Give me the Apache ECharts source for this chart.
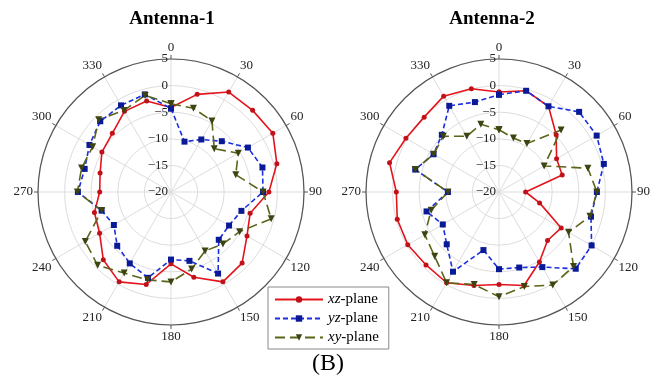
<!DOCTYPE html>
<html>
<head>
<meta charset="utf-8">
<script src="https://cdn.jsdelivr.net/npm/echarts@6/dist/echarts.min.js"></script>
<style>
  html, body { margin: 0; padding: 0; background: #fff; }
  #chart { width: 656px; height: 385px; }
</style>
</head>
<body>
<div id="chart"></div>
<script>
// angles of the measured points (deg)
const angles = [0, 15, 30, 45, 60, 75, 90, 105, 120, 135, 150, 165, 180, 195, 210, 225, 240, 255, 270, 285, 300, 315, 330, 345];
const angleTicks = [0, 30, 60, 90, 120, 150, 180, 210, 240, 270, 300, 330];
const radiusTicks = [-20, -15, -10, -5, 0, 5];

// Antenna-1 (dB)
const ant1Xz = [-4.1, -1.0, 1.7, 1.7, 2.1, 0.6, -1.6, -4.6, -3.5, -1.1, -0.5, -3.4, -6.5, -2.0, -0.5, -2.0, -4.5, -5.1, -6.6, -6.2, -5.0, -4.4, -2.5, -2.3];
const ant1Yz = [-4.3, -10.2, -8.6, -6.5, -3.3, -2.2, -2.7, -6.3, -7.4, -7.3, -2.3, -6.6, -7.3, -3.3, -4.5, -5.7, -7.6, -6.5, -2.5, -3.2, -2.3, -1.2, -1.2, -1.0];
const ant1Xy = [-3.4, -3.7, -4.6, -8.5, -5.4, -7.4, -2.7, -0.5, -5.1, -6.2, -7.2, -5.0, -3.1, -2.9, -2.4, -0.5, -1.4, -6.5, -2.4, -2.6, -3.0, -0.8, -2.3, -1.2];

// Antenna-2 (dB)
const ant2Xz = [-1.2, -0.3, -1.4, -4.8, -7.5, -7.7, -15.0, -12.1, -6.5, -7.1, -4.8, -1.8, -2.6, -1.8, -0.3, -0.6, -0.2, -0.2, -0.7, 1.3, 0.2, -0.1, 0.8, 0.1];
const ant2Yz = [-1.7, -0.3, -1.4, 1.3, 1.2, 0.4, -1.6, -2.1, 0.1, 0.4, -3.7, -5.3, -5.5, -8.7, -2.7, -6.1, -7.8, -5.9, -10.4, -3.7, -5.8, -4.8, -1.3, -2.5];
const ant2Xy = [-8.3, -9.5, -9.5, -3.5, -10.2, -2.7, -1.6, -2.3, -4.9, -0.2, 0.2, -1.6, -0.3, -2.0, -0.3, -2.9, -3.9, -6.8, -10.4, -3.7, -5.8, -5.2, -7.9, -6.8];

const serif = "'Liberation Serif', 'DejaVu Serif', serif";

// closed loop of [radius, angle] pairs
function loop(vals) {
  const d = vals.map((v, i) => [v, angles[i]]);
  d.push([vals[0], 360]);
  return d;
}

function angleAxis(idx) {
  return {
    polarIndex: idx,
    type: "value",
    min: 0,
    max: 360,
    interval: 30,
    startAngle: 90,
    clockwise: true,
    axisLine: { lineStyle: { color: "#555", width: 1.2 } },
    axisTick: { show: true, length: 4, lineStyle: { color: "#555" } },
    axisLabel: {
      margin: 5,
      color: "#222",
      fontFamily: serif,
      fontSize: 13,
      formatter: v => (angleTicks.indexOf(v) >= 0 ? String(v) : "")
    },
    splitLine: { show: true, lineStyle: { color: "#ddd", width: 1 } }
  };
}

function radiusAxis(idx) {
  return {
    polarIndex: idx,
    type: "value",
    min: radiusTicks[0],
    max: radiusTicks[radiusTicks.length - 1],
    interval: 5,
    axisLine: { show: false },
    axisTick: { show: false },
    axisLabel: {
      color: "#222",
      fontFamily: serif,
      fontSize: 13,
      margin: 3,
      formatter: v => String(v).replace("-", "\u2212")
    },
    splitLine: { show: true, lineStyle: { color: "#ddd", width: 1 } }
  };
}

const styles = {
  xz: { color: "#e3141c", type: "solid", symbol: "circle", symbolColor: "#c21018", size: 5 },
  yz: { color: "#1a2ee0", type: [5, 3], symbol: "rect", symbolColor: "#0a1a96", size: 6 },
  xy: { color: "#5b6419", type: [10, 5], symbol: "triangle", symbolColor: "#3d4412", size: 7 }
};

function line(name, vals, idx) {
  const s = styles[name.slice(0, 2)];
  return {
    name: name,
    type: "line",
    coordinateSystem: "polar",
    polarIndex: idx,
    data: loop(vals),
    symbol: s.symbol,
    symbolSize: s.size,
    symbolRotate: s.symbol === "triangle" ? 180 : 0,
    animation: false,
    lineStyle: { color: s.color, width: 1.6, type: s.type },
    itemStyle: { color: s.symbolColor }
  };
}

const chart = echarts.init(document.getElementById("chart"));
chart.setOption({
  backgroundColor: "#fff",
  animation: false,
  title: [
    { text: "Antenna-1", left: 167, top: 5, textAlign: "center",
      textStyle: { fontFamily: serif, fontWeight: "bold", fontSize: 19, color: "#000" } },
    { text: "Antenna-2", left: 487, top: 5, textAlign: "center",
      textStyle: { fontFamily: serif, fontWeight: "bold", fontSize: 19, color: "#000" } }
  ],
  polar: [
    { center: [171, 192], radius: 133 },
    { center: [499, 192], radius: 133 }
  ],
  angleAxis: [angleAxis(0), angleAxis(1)],
  radiusAxis: [radiusAxis(0), radiusAxis(1)],
  legend: {
    orient: "vertical",
    left: 268,
    top: 287,
    padding: [5, 10, 4, 6],
    itemGap: 4,
    itemWidth: 48,
    itemHeight: 8,
    backgroundColor: "#fff",
    borderColor: "#888",
    borderWidth: 1,
    borderRadius: 0,
    data: ["xz-plane", "yz-plane", "xy-plane"],
    formatter: n => "{i|" + n.slice(0, 2) + "}-plane",
    textStyle: {
      fontFamily: serif,
      fontSize: 15,
      color: "#000",
      rich: { i: { fontFamily: serif, fontSize: 15, fontStyle: "italic", color: "#000" } }
    }
  },
  graphic: [
    { type: "text", left: 312, top: 352,
      style: { text: "(B)", font: "24px " + serif, fill: "#000" } }
  ],
  series: [
    line("xz-plane", ant1Xz, 0),
    line("yz-plane", ant1Yz, 0),
    line("xy-plane", ant1Xy, 0),
    line("xz-plane", ant2Xz, 1),
    line("yz-plane", ant2Yz, 1),
    line("xy-plane", ant2Xy, 1)
  ]
});
</script>
</body>
</html>
